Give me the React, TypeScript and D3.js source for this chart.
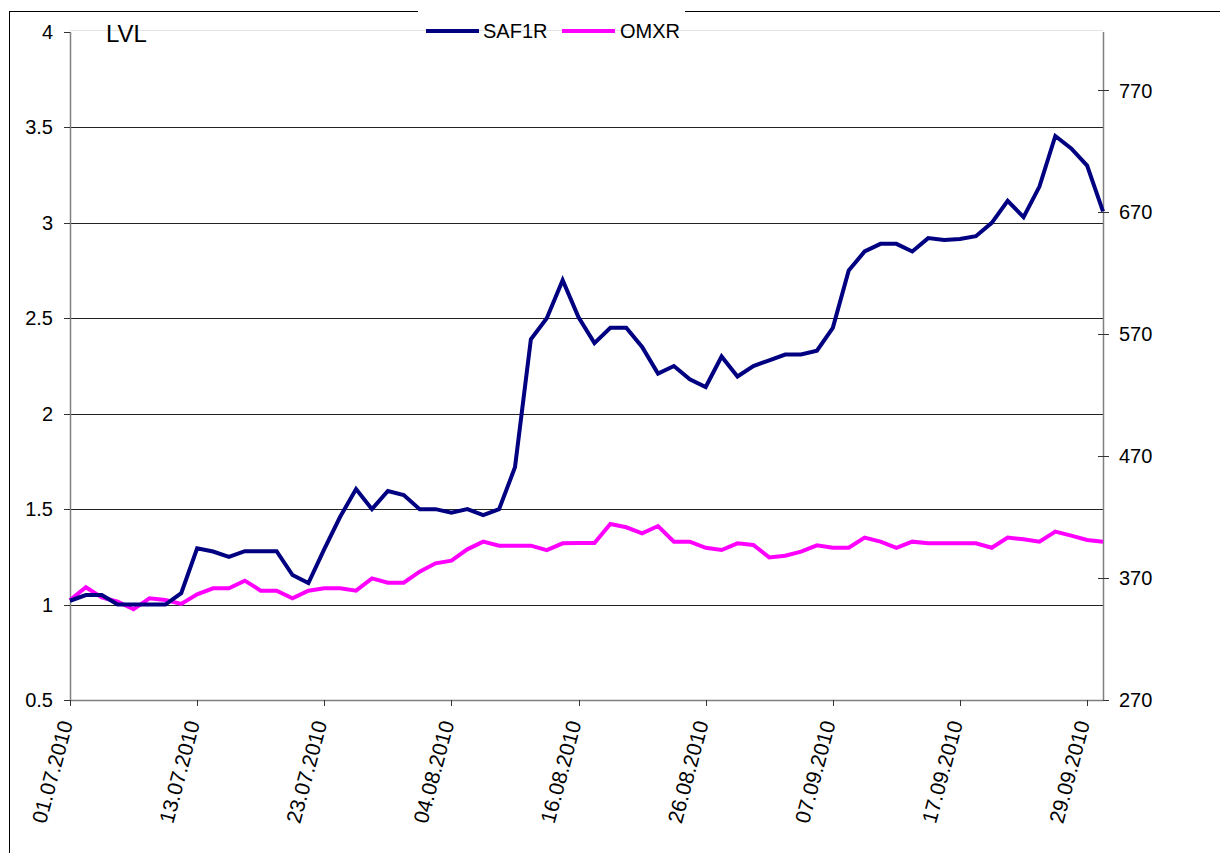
import { useEffect, useRef } from "react"
import * as d3 from "d3"

// trading days, Jul - Sep 2010
const dates = [
  "01.07.2010", "02.07.2010", "05.07.2010", "06.07.2010", "07.07.2010", "08.07.2010", "09.07.2010", "12.07.2010",
  "13.07.2010", "14.07.2010", "15.07.2010", "16.07.2010", "19.07.2010", "20.07.2010", "21.07.2010", "22.07.2010",
  "23.07.2010", "26.07.2010", "27.07.2010", "28.07.2010", "29.07.2010", "30.07.2010", "02.08.2010", "03.08.2010",
  "04.08.2010", "05.08.2010", "06.08.2010", "09.08.2010", "10.08.2010", "11.08.2010", "12.08.2010", "13.08.2010",
  "16.08.2010", "17.08.2010", "18.08.2010", "19.08.2010", "20.08.2010", "23.08.2010", "24.08.2010", "25.08.2010",
  "26.08.2010", "27.08.2010", "30.08.2010", "31.08.2010", "01.09.2010", "02.09.2010", "03.09.2010", "06.09.2010",
  "07.09.2010", "08.09.2010", "09.09.2010", "10.09.2010", "13.09.2010", "14.09.2010", "15.09.2010", "16.09.2010",
  "17.09.2010", "20.09.2010", "21.09.2010", "22.09.2010", "23.09.2010", "24.09.2010", "27.09.2010", "28.09.2010",
  "29.09.2010", "30.09.2010",
]

// SAF1R price, LVL (left axis)
const saf1r = [
  1.02, 1.05, 1.05, 1.0, 1.0, 1.0, 1.0, 1.06, 1.295, 1.278, 1.25, 1.28, 1.28, 1.28, 1.155, 1.113,
  1.29, 1.46, 1.605, 1.5, 1.595, 1.574, 1.5, 1.5, 1.481, 1.5, 1.469, 1.5, 1.72, 2.39, 2.5, 2.7,
  2.505, 2.37, 2.45, 2.45, 2.35, 2.21, 2.25, 2.18, 2.14, 2.3, 2.195, 2.25, 2.28, 2.31, 2.31, 2.33,
  2.45, 2.75, 2.85, 2.89, 2.89, 2.85, 2.92, 2.91, 2.915, 2.93, 3.0, 3.115, 3.03, 3.19, 3.455, 3.39,
  3.3, 3.06,
]

// OMX Riga index (right axis)
const omxr = [
  352, 362.5, 354.2, 350.6, 344.4, 353.4, 352, 348.8, 356.7, 361.6, 361.6, 367.9, 359.7, 359.7, 353.4, 359.7,
  361.6, 361.6, 359.7, 369.8, 366.2, 366.2, 375.3, 382.1, 384.3, 393.6, 399.9, 396.6, 396.6, 396.6, 393, 398.5,
  398.8, 398.8, 414.4, 411.7, 406.7, 412.7, 399.9, 399.9, 394.9, 393, 398.5, 397.2, 387, 388.4, 391.7, 396.9,
  394.9, 394.9, 403.2, 399.9, 394.9, 399.9, 398.5, 398.5, 398.5, 398.5, 394.9, 403.2, 401.8, 399.9, 408.1, 404.8,
  401.3, 399.9,
]

const leftTicks = [0.5, 1, 1.5, 2, 2.5, 3, 3.5, 4]
const rightTicks = [270, 370, 470, 570, 670, 770]
const gridTicks = [1, 1.5, 2, 2.5, 3, 3.5]
const labelEvery = 8

const series = [
  { name: "SAF1R", color: "#000080", values: saf1r, axis: "left" },
  { name: "OMXR", color: "#ff00ff", values: omxr, axis: "right" },
]

const W = 1220
const H = 853
const FONT = "'Liberation Sans', Arial, sans-serif"

const App = () => {
  const ref = useRef<SVGSVGElement>(null)

  useEffect(() => {
    const margin = { left: 70, right: 1103, top: 32, bottom: 700 }

    const x = d3.scalePoint<string>().domain(dates).range([margin.left, margin.right])
    const yL = d3.scaleLinear().domain([0.5, 4]).range([margin.bottom, margin.top])
    // right axis: 100 units ~ 122px, no tick at the top
    const rMax = 270 + ((margin.bottom - margin.top) / 121.9) * 100
    const yR = d3.scaleLinear().domain([270, rMax]).range([margin.bottom, margin.top])

    const svg = d3.select(ref.current)
    svg.selectAll("*").remove()

    svg.append("rect").attr("width", W).attr("height", H).attr("fill", "white")

    // outer chart border (right / bottom run off the picture)
    svg.append("rect")
      .attr("x", 9.5).attr("y", 11.5)
      .attr("width", W + 20).attr("height", H + 20)
      .attr("fill", "none").attr("stroke", "black").attr("stroke-width", 1)

    // gridlines
    svg.append("line")
      .attr("x1", margin.left).attr("x2", margin.right)
      .attr("y1", yL(4) - 1.5).attr("y2", yL(4) - 1.5)
      .attr("stroke", "#e4e4e4")
    svg.append("g")
      .selectAll("line")
      .data(gridTicks)
      .join("line")
      .attr("x1", margin.left).attr("x2", margin.right)
      .attr("y1", (d) => Math.round(yL(d)) + 0.5)
      .attr("y2", (d) => Math.round(yL(d)) + 0.5)
      .attr("stroke", "#222")

    // left axis
    const gl = svg.append("g").attr("font-family", FONT).attr("font-size", 20)
    gl.append("line")
      .attr("x1", margin.left + 0.5).attr("x2", margin.left + 0.5)
      .attr("y1", margin.top).attr("y2", margin.bottom)
      .attr("stroke", "#808080").attr("stroke-width", 1.5)
    gl.selectAll("line.t")
      .data(leftTicks)
      .join("line")
      .attr("class", "t")
      .attr("x1", margin.left - 6).attr("x2", margin.left)
      .attr("y1", (d) => Math.round(yL(d)) + 0.5)
      .attr("y2", (d) => Math.round(yL(d)) + 0.5)
      .attr("stroke", "#333")
    gl.selectAll("text")
      .data(leftTicks)
      .join("text")
      .attr("x", margin.left - 17)
      .attr("y", (d) => yL(d))
      .attr("dy", "0.35em")
      .attr("text-anchor", "end")
      .text((d) => String(d))

    // right axis
    const gr = svg.append("g").attr("font-family", FONT).attr("font-size", 20)
    gr.append("line")
      .attr("x1", margin.right + 0.5).attr("x2", margin.right + 0.5)
      .attr("y1", margin.top).attr("y2", margin.bottom)
      .attr("stroke", "#808080").attr("stroke-width", 1.5)
    gr.selectAll("line.t")
      .data(rightTicks)
      .join("line")
      .attr("class", "t")
      .attr("x1", margin.right - 5).attr("x2", margin.right + 6)
      .attr("y1", (d) => Math.round(yR(d)) + 0.5)
      .attr("y2", (d) => Math.round(yR(d)) + 0.5)
      .attr("stroke", "#333")
    gr.selectAll("text")
      .data(rightTicks)
      .join("text")
      .attr("x", margin.right + 16)
      .attr("y", (d) => yR(d))
      .attr("dy", "0.35em")
      .text((d) => String(d))

    // x axis
    const labelled = dates.filter((_, i) => i % labelEvery === 0)
    const gx = svg.append("g").attr("font-family", FONT).attr("font-size", 21)
    gx.append("line")
      .attr("x1", margin.left).attr("x2", margin.right)
      .attr("y1", margin.bottom + 0.5).attr("y2", margin.bottom + 0.5)
      .attr("stroke", "#808080").attr("stroke-width", 1.5)
    gx.selectAll("line.t")
      .data(labelled)
      .join("line")
      .attr("class", "t")
      .attr("x1", (d) => Math.round(x(d)!) + 0.5)
      .attr("x2", (d) => Math.round(x(d)!) + 0.5)
      .attr("y1", margin.bottom).attr("y2", margin.bottom + 6)
      .attr("stroke", "#333")
    gx.selectAll("text")
      .data(labelled)
      .join("text")
      .attr("transform", (d) => `translate(${x(d)! + 3},${margin.bottom + 23}) rotate(-75)`)
      .attr("text-anchor", "end")
      .text((d) => d)

    // lines
    const lineFor = (s: typeof series[number]) => {
      const yS = s.axis === "left" ? yL : yR
      return d3.line<number>()
        .x((_, i) => x(dates[i])!)
        .y((d) => yS(d))(s.values)
    }
    svg.append("g")
      .selectAll("path")
      .data([...series].reverse())
      .join("path")
      .attr("d", (s) => lineFor(s))
      .attr("fill", "none")
      .attr("stroke", (s) => s.color)
      .attr("stroke-width", 4)
      .attr("stroke-linejoin", "miter")

    // unit label
    svg.append("text")
      .attr("x", 106).attr("y", 42)
      .attr("font-family", FONT).attr("font-size", 24)
      .text("LVL")

    // legend
    const lg = svg.append("g").attr("font-family", FONT).attr("font-size", 20)
    lg.append("rect")
      .attr("x", 418).attr("y", 5).attr("width", 267).attr("height", 24)
      .attr("fill", "white")
    const items = [
      { s: series[0], lx: 426, tx: 483 },
      { s: series[1], lx: 562, tx: 620 },
    ]
    items.forEach(({ s, lx, tx }) => {
      lg.append("line")
        .attr("x1", lx).attr("x2", lx + 53)
        .attr("y1", 31).attr("y2", 31)
        .attr("stroke", s.color).attr("stroke-width", 4)
      lg.append("text").attr("x", tx).attr("y", 38).text(s.name)
    })
  }, [])

  return (
    <div style={{ position: "fixed", left: 0, top: 0 }}>
      <svg ref={ref} width={W} height={H} style={{ display: "block" }} />
    </div>
  )
}

export default App
